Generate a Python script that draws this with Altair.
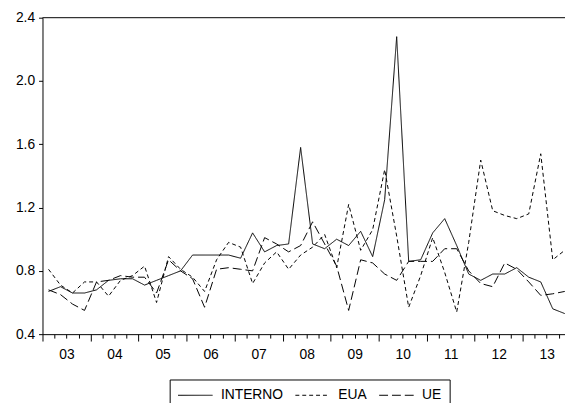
import altair as alt
import pandas as pd

years = list(range(2003, 2014))
quarters = [1, 2, 3, 4]
periods = [f"{y}Q{q}" for y in years for q in quarters]

interno = [0.67, 0.70, 0.66, 0.66, 0.68, 0.74, 0.75, 0.75, 0.71, 0.74, 0.77, 0.80,
           0.90, 0.90, 0.90, 0.90, 0.88, 1.04, 0.92, 0.96, 0.97, 1.58, 0.97, 0.94,
           1.00, 0.96, 1.05, 0.89, 1.25, 2.28, 0.86, 0.87, 1.04, 1.13, 0.96, 0.78,
           0.74, 0.78, 0.78, 0.82, 0.76, 0.73, 0.56, 0.53]
eua = [0.81, 0.71, 0.66, 0.73, 0.73, 0.64, 0.74, 0.77, 0.83, 0.60, 0.89, 0.81,
       0.76, 0.67, 0.87, 0.98, 0.95, 0.72, 0.85, 0.92, 0.81, 0.90, 0.95, 1.03,
       0.82, 1.22, 0.93, 1.06, 1.44, 1.02, 0.57, 0.77, 1.01, 0.79, 0.54, 0.98,
       1.50, 1.18, 1.15, 1.13, 1.16, 1.54, 0.87, 0.93]
ue = [0.68, 0.65, 0.59, 0.55, 0.73, 0.74, 0.77, 0.76, 0.76, 0.66, 0.87, 0.80,
      0.75, 0.57, 0.81, 0.82, 0.81, 0.80, 1.01, 0.97, 0.92, 0.96, 1.11, 0.97,
      0.83, 0.55, 0.87, 0.85, 0.78, 0.74, 0.86, 0.86, 0.86, 0.94, 0.94, 0.80,
      0.72, 0.70, 0.85, 0.81, 0.73, 0.645, 0.655, 0.67]

series_names = ["INTERNO", "EUA", "UE"]
series_values = {"INTERNO": interno, "EUA": eua, "UE": ue}

rows = []
for i, p in enumerate(periods):
    yr = int(p[:4])
    q = int(p[-1])
    t = yr + (q - 0.5) / 4
    for name in series_names:
        rows.append({"t": t, "serie": name, "valor": series_values[name][i]})
df = pd.DataFrame(rows)

FONT = "Liberation Sans"
y_ticks = [0.4, 0.8, 1.2, 1.6, 2.0, 2.4]
x_ticks = [y + f for y in years for f in (0.0, 0.25, 0.5, 0.75)]

x_scale = alt.Scale(domain=[2003, 2013.88], nice=False, zero=False)
y_scale = alt.Scale(domain=[0.4, 2.4], nice=False, zero=False)

x_axis = alt.Axis(
    values=x_ticks,
    title=None,
    grid=False,
    domainColor="black",
    domainWidth=1,
    tickColor="black",
    tickWidth=1,
    tickSize={"condition": {"test": "datum.value % 1 == 0", "value": 7}, "value": 4},
    labelExpr="datum.value % 1 == 0.5 ? slice(toString(floor(datum.value)), 2) : ''",
    labelFont=FONT,
    labelFontSize=14,
    labelColor="black",
    labelPadding=10,
    labelOverlap=False,
    labelFlush=False,
    labelBaseline="top",
)

y_axis = alt.Axis(
    values=y_ticks,
    format=".1f",
    title=None,
    grid=False,
    domainColor="black",
    domainWidth=1,
    tickColor="black",
    tickWidth=1,
    tickSize=4,
    labelPadding=4,
    labelFont=FONT,
    labelFontSize=14,
    labelColor="black",
    labelOverlap=False,
    labelFlush=False,
)

legend = alt.Legend(
    orient="none",
    legendX=129,
    legendY=367,
    direction="horizontal",
    title=None,
    strokeColor="black",
    fillColor="white",
    padding=8,
    symbolType="stroke",
    symbolSize=1225,
    symbolStrokeWidth=1,
    symbolStrokeColor="black",
    labelFont=FONT,
    labelFontSize=14,
    labelColor="black",
    labelOffset=8,
    columnPadding=12,
    clipHeight=16,
)

lines = alt.Chart(df).mark_line(color="black", strokeWidth=1).encode(
    x=alt.X("t:Q", scale=x_scale, axis=x_axis),
    y=alt.Y("valor:Q", scale=y_scale, axis=y_axis),
    strokeDash=alt.StrokeDash(
        "serie:N",
        scale=alt.Scale(domain=series_names, range=[[1, 0], [4, 3], [9, 4]]),
        legend=legend,
    ),
    detail="serie:N",
)

top = alt.Chart(pd.DataFrame({"v": [y_ticks[-1]]})).mark_rule(
    color="black", strokeWidth=1
).encode(y=alt.Y("v:Q", scale=y_scale))

chart = alt.layer(lines, top).properties(
    width=530,
    height=321,
    autosize=alt.AutoSizeParams(type="none"),
    padding={"left": 35, "top": 7, "right": 0, "bottom": 67},
    background="white",
).configure_view(strokeWidth=0)

chart.save("out.html", embed_options={"renderer": "svg", "actions": False})
